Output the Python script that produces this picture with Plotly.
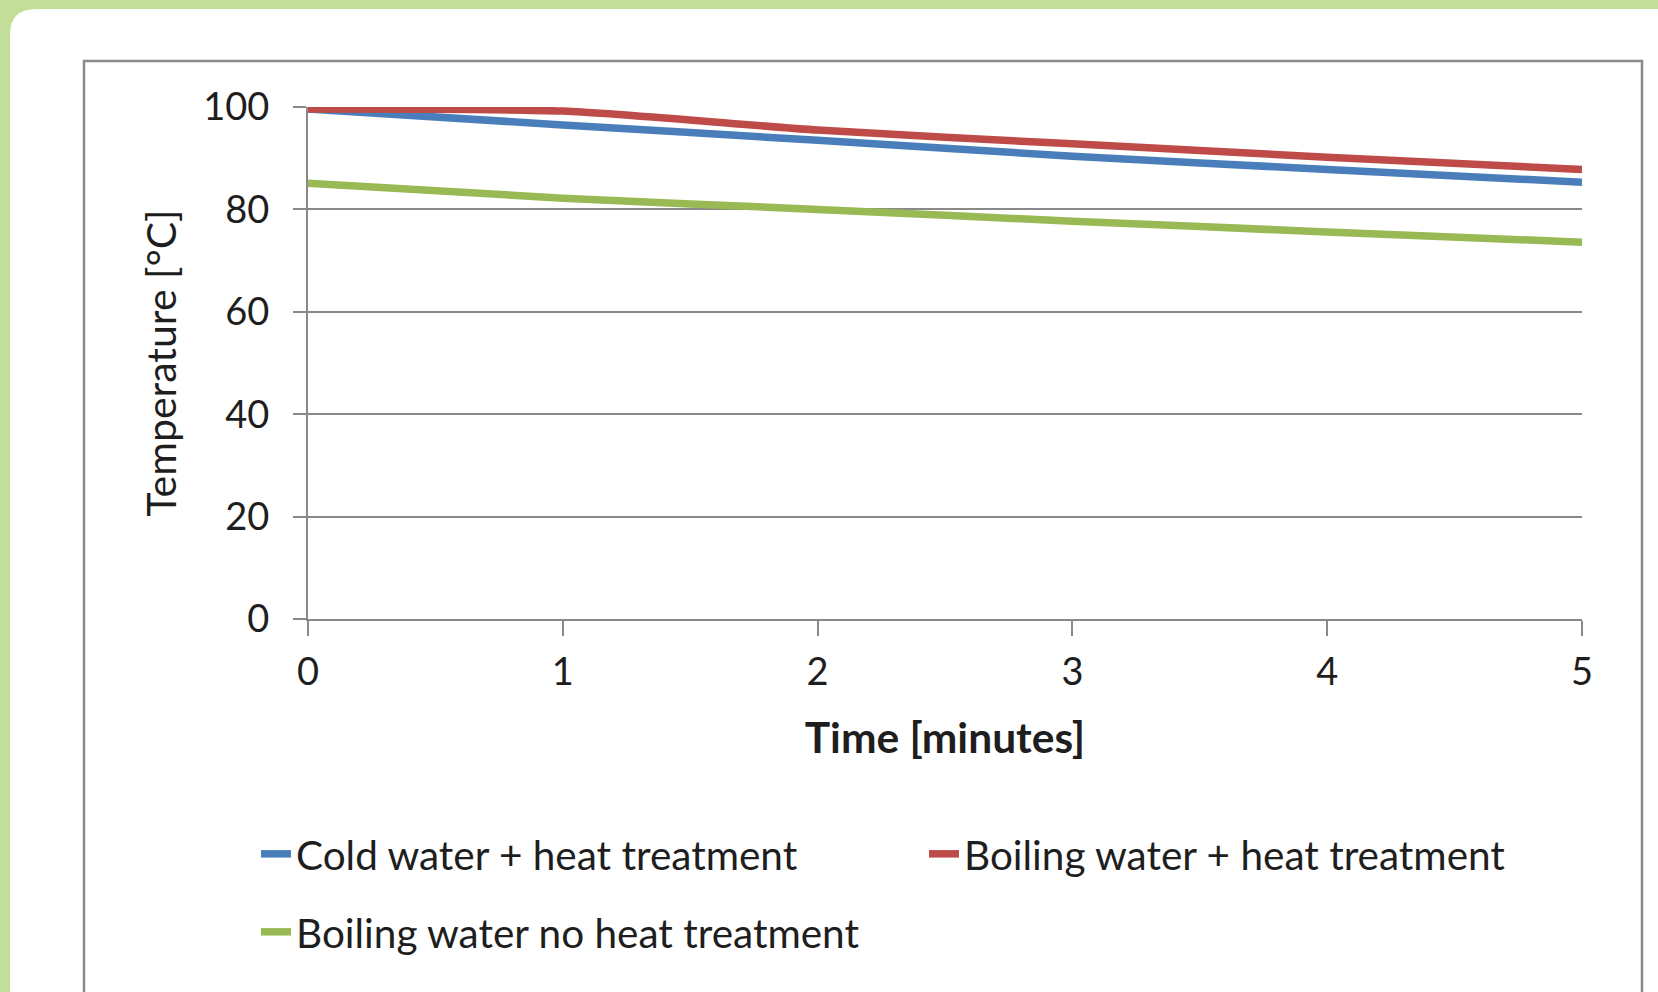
import plotly.graph_objects as go

# ---- data ----
time_min = [0, 1, 2, 3, 4, 5]
cold_heat = [99.6, 96.5, 93.5, 90.4, 87.8, 85.3]
boiling_heat = [99.6, 99.2, 95.5, 92.8, 90.2, 87.8]
boiling_no_heat = [85.1, 82.2, 80.0, 77.7, 75.6, 73.6]

series_names = ["Cold water + heat treatment",
                "Boiling water + heat treatment",
                "Boiling water no heat treatment"]
series_colors = ["#4a7ebb", "#be4b48", "#98b954"]

x_ticks = [0, 1, 2, 3, 4, 5]
y_ticks = [0, 20, 40, 60, 80, 100]

# ---- layout geometry (pixels) ----
W, H = 1658, 992
L, R, T, B = 308, 1582, 107, 619
pw, ph = R - L, B - T


def px(x):
    return (x - L) / pw


def py(y):
    return (B - y) / ph


FONT = "Lato, 'Open Sans', sans-serif"
GRID = "#898989"
TXT = "#1e1e1e"

fig = go.Figure()
values = [cold_heat, boiling_heat, boiling_no_heat]
legends = ["legend", "legend", "legend2"]
for name, vals, col, lg in zip(series_names, values, series_colors, legends):
    fig.add_trace(go.Scatter(
        x=time_min, y=vals, name=name, mode="lines",
        line=dict(color=col, width=7.5, shape="spline", smoothing=0.6),
        cliponaxis=False, legend=lg,
    ))

# background decorations: rounded white panel and chart border
r = 26
x0, y0, x1, y1 = 10, 9, 1700, 1100
path = (f"M {px(x0)},{py(y0 + r)} Q {px(x0)},{py(y0)} {px(x0 + r)},{py(y0)} "
        f"L {px(x1)},{py(y0)} L {px(x1)},{py(y1)} L {px(x0)},{py(y1)} Z")
shapes = [
    dict(type="path", xref="paper", yref="paper", path=path,
         fillcolor="white", line=dict(width=0), layer="below"),
    dict(type="rect", xref="paper", yref="paper",
         x0=px(84), x1=px(1642), y0=py(61), y1=py(1050),
         line=dict(color="#8a8a8a", width=2.5), fillcolor="rgba(0,0,0,0)",
         layer="below"),
]

fig.update_layout(
    width=W, height=H,
    margin=dict(l=L, r=W - R, t=T, b=H - B, autoexpand=False),
    paper_bgcolor="#c3de99",
    plot_bgcolor="white",
    font=dict(family=FONT, color=TXT, size=38),
    shapes=shapes,
    showlegend=True,
    legend=dict(
        orientation="h", x=px(256), y=py(821), xanchor="left", yanchor="top",
        font=dict(family=FONT, size=40.5, color=TXT),
        entrywidth=623, entrywidthmode="pixels",
        bgcolor="rgba(0,0,0,0)", borderwidth=0,
    ),
    legend2=dict(
        orientation="h", x=px(256), y=py(899), xanchor="left", yanchor="top",
        font=dict(family=FONT, size=40.5, color=TXT),
        bgcolor="rgba(0,0,0,0)", borderwidth=0,
    ),
)

fig.update_xaxes(
    range=[0, 5], tickmode="array", tickvals=x_ticks,
    ticktext=[str(v) for v in x_ticks],
    showgrid=False, zeroline=False,
    showline=True, linecolor=GRID, linewidth=2,
    ticks="outside", ticklen=15, tickwidth=2, tickcolor=GRID,
    ticklabelstandoff=3,
    tickfont=dict(family=FONT, size=38, color=TXT),
    title=dict(text="<b>Time [minutes]</b>", standoff=32,
               font=dict(family=FONT, size=42.5, color=TXT)),
)
fig.update_yaxes(
    range=[0, 100], tickmode="array", tickvals=y_ticks,
    ticktext=[str(v) for v in y_ticks],
    showgrid=True, gridcolor=GRID, gridwidth=2,
    zeroline=False,
    showline=True, linecolor=GRID, linewidth=2,
    ticks="outside", ticklen=13, tickwidth=2, tickcolor=GRID,
    ticklabelstandoff=16,
    tickfont=dict(family=FONT, size=38, color=TXT),
    title=dict(text="Temperature [°C]", standoff=14,
               font=dict(family=FONT, size=41, color=TXT)),
)

fig.write_html("out.html",
               config={"displayModeBar": False},
               post_script="document.body.style.margin='0';")
